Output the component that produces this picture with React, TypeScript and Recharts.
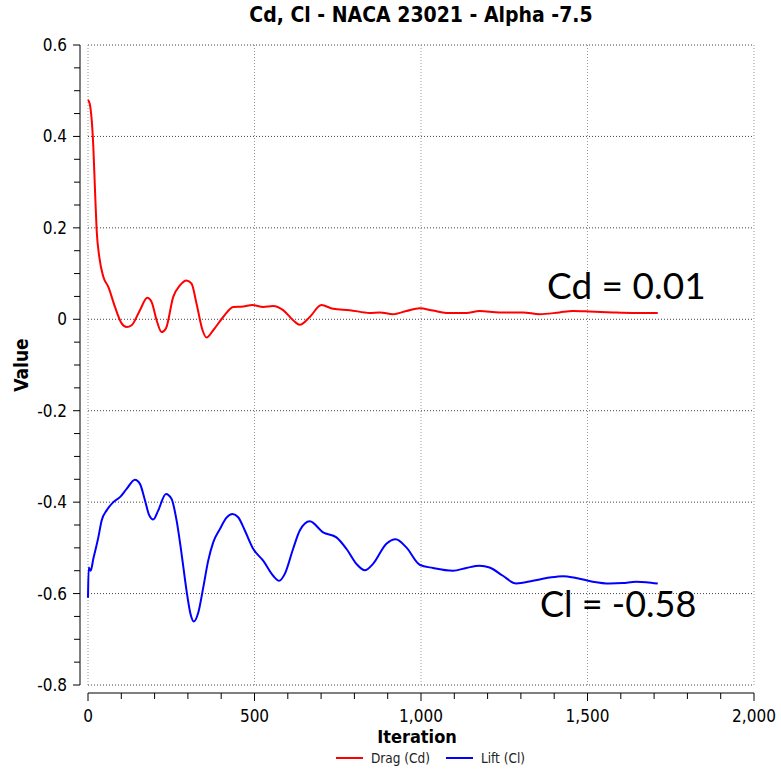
import React from 'react';
import { LineChart, Line, XAxis, YAxis, ReferenceLine, Legend } from 'recharts';

// values
const dragIter = [0, 5, 16, 21, 26, 34, 46, 61, 81, 101, 116, 131, 156, 178, 191, 206, 221, 234, 256, 276, 296, 311, 326, 344, 356, 376, 406, 436, 466, 494, 526, 556, 586, 616, 636, 666, 701, 736, 786, 846, 876, 916, 956, 996, 1036, 1076, 1136, 1176, 1236, 1306, 1356, 1416, 1456, 1506, 1576, 1636, 1711];
const dragCd = [0.48, 0.472, 0.377, 0.283, 0.195, 0.136, 0.093, 0.071, 0.027, -0.009, -0.017, -0.013, 0.02, 0.047, 0.038, -0.002, -0.028, -0.02, 0.049, 0.074, 0.085, 0.078, 0.034, -0.024, -0.04, -0.024, 0.005, 0.027, 0.028, 0.031, 0.027, 0.029, 0.02, -0.002, -0.012, 0.005, 0.031, 0.023, 0.02, 0.014, 0.015, 0.011, 0.018, 0.024, 0.019, 0.014, 0.014, 0.018, 0.015, 0.015, 0.011, 0.015, 0.018, 0.017, 0.015, 0.014, 0.014];

const liftIter = [0, 2, 8, 16, 31, 41, 56, 76, 96, 116, 141, 156, 171, 184, 196, 211, 234, 251, 266, 281, 296, 308, 318, 331, 346, 361, 376, 396, 416, 434, 451, 471, 496, 526, 556, 574, 591, 616, 636, 666, 706, 746, 776, 806, 831, 856, 896, 924, 956, 996, 1036, 1096, 1136, 1176, 1206, 1246, 1286, 1336, 1386, 1426, 1466, 1516, 1566, 1606, 1646, 1676, 1711];
const liftCl = [-0.609, -0.543, -0.55, -0.524, -0.477, -0.44, -0.418, -0.4, -0.389, -0.371, -0.351, -0.36, -0.396, -0.429, -0.438, -0.418, -0.382, -0.393, -0.44, -0.513, -0.594, -0.645, -0.661, -0.642, -0.587, -0.528, -0.488, -0.459, -0.434, -0.426, -0.433, -0.462, -0.502, -0.528, -0.561, -0.572, -0.557, -0.502, -0.462, -0.442, -0.466, -0.477, -0.502, -0.535, -0.549, -0.535, -0.491, -0.481, -0.499, -0.537, -0.544, -0.55, -0.544, -0.539, -0.543, -0.561, -0.578, -0.572, -0.565, -0.562, -0.566, -0.574, -0.578, -0.577, -0.574, -0.575, -0.578];

const xMajor = [0, 500, 1000, 1500, 2000];
const yMajor = [-0.8, -0.6, -0.4, -0.2, 0, 0.2, 0.4, 0.6];

const xTicks = Array.from({ length: 21 }, (_, i) => i * 100);
const yTicks = Array.from({ length: 29 }, (_, i) => Math.round((-0.8 + i * 0.05) * 100) / 100);

const dragData = dragIter.map((t, i) => ({ t, v: dragCd[i] }));
const liftData = liftIter.map((t, i) => ({ t, v: liftCl[i] }));

const FONT = '"DejaVu Sans Condensed", "DejaVu Sans", sans-serif';

const isMajor = (v: number, list: number[]) => list.some((m) => Math.abs(m - v) < 1e-6);

const YTick = (props: any) => {
  const { x, y, payload } = props;
  const major = isMajor(payload.value, yMajor);
  return (
    <g>
      <line x1={x} x2={x - (major ? 7 : 6)} y1={y} y2={y} stroke="#000" />
      {major && (
        <text x={x - 13} y={y + 6} textAnchor="end" fontSize={17} fontFamily={FONT} fill="#000">
          {payload.value}
        </text>
      )}
    </g>
  );
};

const XTick = (props: any) => {
  const { x, y, payload } = props;
  const major = isMajor(payload.value, xMajor);
  return (
    <g>
      <line x1={x} x2={x} y1={y} y2={y + (major ? 8 : 6)} stroke="#000" />
      {major && (
        <text x={x} y={y + 29} textAnchor="middle" fontSize={17} fontFamily={FONT} fill="#000">
          {payload.value.toLocaleString('en-US')}
        </text>
      )}
    </g>
  );
};

const LegendContent = () => (
  <div style={{ display: 'flex', justifyContent: 'center', gap: 16, fontFamily: FONT, fontSize: 13.5, color: '#222', paddingLeft: 80 }}>
    <span style={{ display: 'flex', alignItems: 'center', gap: 8 }}>
      <span style={{ width: 27, height: 2, background: '#ff0000', display: 'inline-block' }} />
      Drag (Cd)
    </span>
    <span style={{ display: 'flex', alignItems: 'center', gap: 8 }}>
      <span style={{ width: 27, height: 2, background: '#0000ff', display: 'inline-block' }} />
      Lift (Cl)
    </span>
  </div>
);

export default function App() {
  return (
    <div style={{ position: 'absolute', left: 0, top: 0, width: 781, height: 771, background: '#fff' }}>
      <div
        style={{
          position: 'absolute', left: 88, width: 666, top: 3, textAlign: 'center',
          fontFamily: FONT, fontWeight: 'bold', fontSize: 21, color: '#000',
        }}
      >
        Cd, Cl - NACA 23021 - Alpha -7.5
      </div>
      <LineChart width={781} height={771} margin={{ top: 45, right: 27, left: 0, bottom: 0 }}>
        <XAxis
          dataKey="t"
          type="number"
          domain={[0, 2000]}
          ticks={xTicks}
          interval={0}
          padding={{ left: 8 }}
          tickSize={0}
          tickMargin={0}
          tickLine={false}
          tick={<XTick />}
          axisLine={{ stroke: '#000', strokeDasharray: '0 8 2000' }}
          height={56}
          label={{ value: 'Iteration', position: 'insideBottom', offset: 6, fontFamily: FONT, fontWeight: 'bold', fontSize: 18, fill: '#000' }}
        />
        <YAxis
          type="number"
          domain={[-0.8, 0.6]}
          ticks={yTicks}
          interval={0}
          padding={{ bottom: 8 }}
          tickSize={0}
          tickMargin={0}
          tickLine={false}
          tick={<YTick />}
          axisLine={{ stroke: '#000', strokeDasharray: '640 100' }}
          width={80}
          label={{ value: 'Value', angle: -90, position: 'center', dx: -19, dy: -4, fontFamily: FONT, fontWeight: 'bold', fontSize: 19, fill: '#000' }}
        />
        {yMajor.map((v) => (
          <ReferenceLine key={'h' + v} segment={[{ x: 0, y: v }, { x: 2000, y: v }]} stroke="#444" strokeDasharray="1 2" />
        ))}
        {xMajor.map((v) => (
          <ReferenceLine key={'v' + v} segment={[{ x: v, y: -0.8 }, { x: v, y: 0.6 }]} stroke="#999" strokeDasharray="1 2" />
        ))}
        <Legend verticalAlign="bottom" content={<LegendContent />} wrapperStyle={{ height: 22, top: 750, left: 0, width: 781 }} />
        <Line data={dragData} dataKey="v" name="Drag (Cd)" type="monotone" stroke="#ff0000" strokeWidth={2} dot={false} isAnimationActive={false} />
        <Line data={liftData} dataKey="v" name="Lift (Cl)" type="monotone" stroke="#0000ff" strokeWidth={2} dot={false} isAnimationActive={false} />
      </LineChart>
      <div style={{ position: 'absolute', left: 547, top: 266, fontFamily: 'Lato, sans-serif', fontSize: 37, lineHeight: 1, color: '#000' }}>
        Cd = 0.01
      </div>
      <div style={{ position: 'absolute', left: 540, top: 585, fontFamily: 'Lato, sans-serif', fontSize: 36, lineHeight: 1, color: '#000' }}>
        Cl = -0.58
      </div>
    </div>
  );
}
